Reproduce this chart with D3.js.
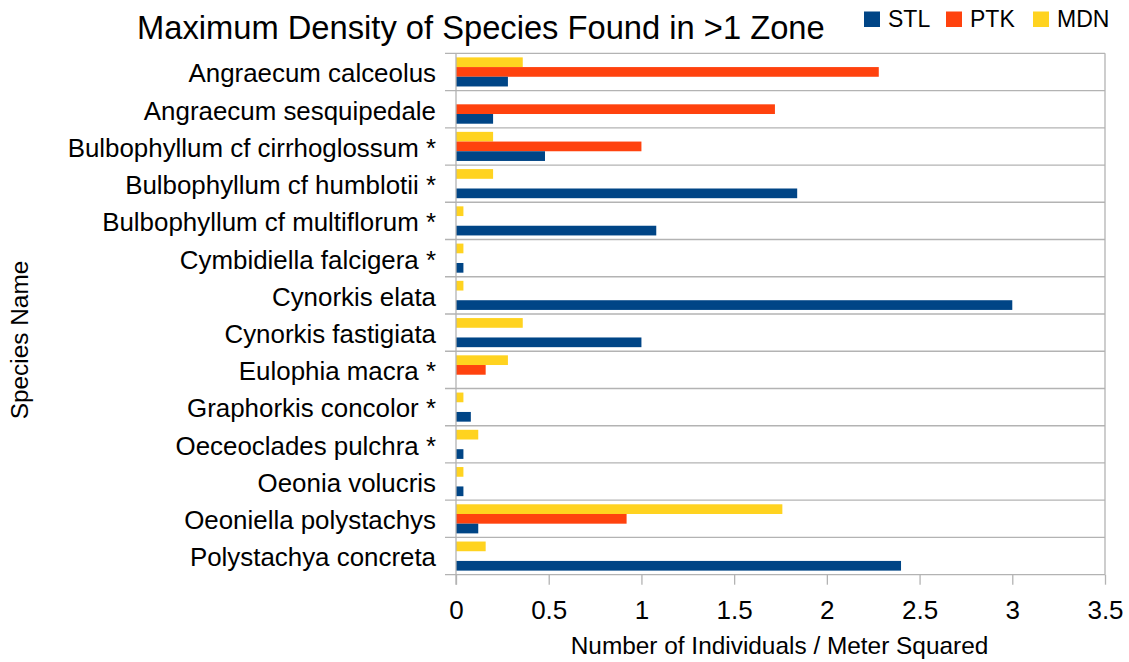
<!DOCTYPE html>
<html>
<head>
<meta charset="utf-8">
<script src="https://cdn.jsdelivr.net/npm/d3@7"></script>
<style>
  html, body { margin: 0; padding: 0; background: #ffffff; }
  svg { display: block; font-family: "Liberation Sans", Arial, sans-serif; }
</style>
</head>
<body>
<svg id="chart" width="1129" height="662"></svg>
<script>
const categories = [
  "Angraecum calceolus",
  "Angraecum sesquipedale",
  "Bulbophyllum cf cirrhoglossum *",
  "Bulbophyllum cf humblotii *",
  "Bulbophyllum cf multiflorum *",
  "Cymbidiella falcigera *",
  "Cynorkis elata",
  "Cynorkis fastigiata",
  "Eulophia macra *",
  "Graphorkis concolor *",
  "Oeceoclades pulchra *",
  "Oeonia volucris",
  "Oeoniella polystachys",
  "Polystachya concreta"
];
const seriesNames = ["STL", "PTK", "MDN"];
const stlValues = [0.28, 0.20, 0.48, 1.84, 1.08, 0.04, 3.0, 1.0, 0, 0.08, 0.04, 0.04, 0.12, 2.40];
const ptkValues = [2.28, 1.72, 1.0, 0, 0, 0, 0, 0, 0.16, 0, 0, 0, 0.92, 0];
const mdnValues = [0.36, 0, 0.20, 0.20, 0.04, 0.04, 0.04, 0.36, 0.28, 0.04, 0.12, 0.04, 1.76, 0.16];
const xTicks = [0, 0.5, 1, 1.5, 2, 2.5, 3, 3.5];
const xTickLabels = ["0", "0.5", "1", "1.5", "2", "2.5", "3", "3.5"];
const titleText = "Maximum Density of Species Found in >1 Zone";
const xTitle = "Number of Individuals / Meter Squared";
const yTitle = "Species Name";

const colors = { STL: "#004586", PTK: "#ff420e", MDN: "#ffd320" };
const valuesBySeries = { STL: stlValues, PTK: ptkValues, MDN: mdnValues };

const svg = d3.select("#chart");
const plot = { left: 456, right: 1105, top: 53.3, bottom: 574.7 };
const grid = "#b3b3b3";

const x = d3.scaleLinear().domain([0, 3.5]).range([plot.left, plot.right]);
const y = d3.scaleBand().domain(categories).range([plot.top, plot.bottom]).padding(0);
const inner = d3.scaleBand().domain(["MDN", "PTK", "STL"]).range([0, y.bandwidth()])
  .paddingInner(0).paddingOuter(0.42);

// horizontal gridlines at category boundaries (with left ticks)
const boundaries = categories.map(c => y(c)).concat([plot.bottom]);
svg.append("g").selectAll("line").data(boundaries).join("line")
  .attr("x1", plot.left - 11).attr("x2", plot.right)
  .attr("y1", d => d).attr("y2", d => d)
  .attr("stroke", grid).attr("stroke-width", 1.3);

// bars
const rows = categories.map((c, i) => ({ c, i }));
const g = svg.append("g");
["MDN", "PTK", "STL"].forEach(s => {
  g.append("g").selectAll("rect").data(rows).join("rect")
    .attr("x", x(0))
    .attr("y", d => y(d.c) + inner(s))
    .attr("width", d => x(valuesBySeries[s][d.i]) - x(0))
    .attr("height", inner.bandwidth())
    .attr("fill", colors[s]);
});

// left axis line & right border
svg.append("line").attr("x1", plot.left).attr("x2", plot.left)
  .attr("y1", plot.top).attr("y2", plot.bottom + 10)
  .attr("stroke", grid).attr("stroke-width", 1.3);
svg.append("line").attr("x1", plot.right).attr("x2", plot.right)
  .attr("y1", plot.top).attr("y2", plot.bottom)
  .attr("stroke", grid).attr("stroke-width", 1.3);

// bottom axis
const xAxis = d3.axisBottom(x).tickValues(xTicks)
  .tickFormat((d, i) => xTickLabels[i]).tickSize(10).tickPadding(16);
const ax = svg.append("g").attr("transform", `translate(0,${plot.bottom})`).call(xAxis);
ax.select(".domain").remove();
ax.selectAll(".tick line").attr("stroke", grid).attr("stroke-width", 1.3);
ax.selectAll(".tick text").attr("font-size", 26).attr("fill", "#000")
  .attr("font-family", "Liberation Sans, Arial, sans-serif");

// category labels
const yAxis = d3.axisLeft(y).tickSize(0).tickPadding(0);
const ay = svg.append("g").attr("transform", `translate(${plot.left - 20},0)`).call(yAxis);
ay.select(".domain").remove();
ay.selectAll(".tick text").attr("font-size", 25.9).attr("fill", "#000")
  .attr("dy", "0.4em")
  .attr("font-family", "Liberation Sans, Arial, sans-serif");

// title
svg.append("text").attr("x", 137).attr("y", 38.5)
  .attr("font-size", 32.7).attr("fill", "#000").text(titleText);

// axis titles
svg.append("text").attr("x", (571 + 988) / 2).attr("y", 654)
  .attr("text-anchor", "middle").attr("font-size", 24.4).attr("fill", "#000").text(xTitle);
svg.append("text").attr("transform", "translate(28,340) rotate(-90)")
  .attr("text-anchor", "middle").attr("font-size", 24.4).attr("fill", "#000").text(yTitle);

// legend
const legendX = [864, 946, 1033];
const lg = svg.append("g");
seriesNames.forEach((s, i) => {
  lg.append("rect").attr("x", legendX[i]).attr("y", 11.5).attr("width", 16).attr("height", 15.5)
    .attr("fill", colors[s]);
  lg.append("text").attr("x", legendX[i] + 24).attr("y", 27)
    .attr("font-size", 23).attr("fill", "#000").text(s);
});
</script>
</body>
</html>
